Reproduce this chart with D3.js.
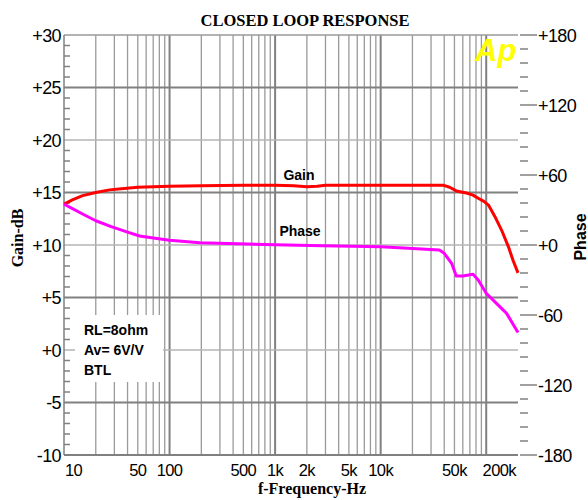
<!DOCTYPE html>
<html>
<head>
<meta charset="utf-8">
<script src="https://cdn.jsdelivr.net/npm/d3@7"></script>
<style>
  body { margin: 0; background: #ffffff; }
  svg { display: block; }
  .tick-label { font-family: "Liberation Sans", Arial, sans-serif; font-size: 18px; fill: #000; letter-spacing: -0.6px; }
  .serif-title { font-family: "Liberation Serif", "Times New Roman", serif; font-weight: bold; fill: #000; }
</style>
</head>
<body>
<div id="chart"></div>
<script>
// gain curve (Hz, dB)
var gainFreq = [10, 12, 15, 20, 27, 35, 50, 70, 100, 200, 500, 1000, 1500, 2000, 2500, 3000, 5000, 10000, 20000, 39000, 45000, 52000, 65000, 75000, 84000, 95000, 105000, 121000, 140000, 162000, 180000, 200000];
var gainDb = [13.9, 14.3, 14.7, 15.0, 15.25, 15.35, 15.5, 15.55, 15.6, 15.65, 15.7, 15.7, 15.65, 15.55, 15.6, 15.7, 15.7, 15.7, 15.7, 15.7, 15.5, 15.15, 14.95, 14.75, 14.45, 14.15, 13.8, 12.7, 11.4, 9.85, 8.5, 7.35];

// phase curve (Hz, degrees)
var phaseFreq = [10, 15, 20, 28, 40, 52, 73, 100, 194, 540, 1000, 2800, 10000, 20000, 36000, 40000, 47000, 52000, 60000, 75000, 84000, 100000, 125000, 156000, 200000];
var phaseDeg = [35, 26.6, 20.8, 15.7, 11, 7.7, 5.7, 4.0, 2.0, 0.9, 0.3, -0.6, -1.4, -2.9, -4.3, -7.1, -15.7, -26.6, -26.6, -25.1, -30, -41.4, -50, -58.6, -75];

// axis labels
var xTickValues = [10, 50, 100, 500, 1000, 2000, 5000, 10000, 50000, 200000];
var xTickLabels = ["10", "50", "100", "500", "1k", "2k", "5k", "10k", "50k", "200k"];
var gainTicks = [30, 25, 20, 15, 10, 5, 0, -5, -10];
var gainTickLabels = ["+30", "+25", "+20", "+15", "+10", "+5", "+0", "-5", "-10"];
var phaseTicks = [180, 120, 60, 0, -60, -120, -180];
var phaseTickLabels = ["+180", "+120", "+60", "+0", "-60", "-120", "-180"];
var noteLines = ["RL=8ohm", "Av= 6V/V", "BTL"];

var W = 588, H = 500;
var plot = { left: 64, right: 518, top: 35, bottom: 455 };

var svg = d3.select("#chart").append("svg")
  .attr("width", W)
  .attr("height", H);

svg.append("rect").attr("width", W).attr("height", H).style("fill", "#ffffff");

var x = d3.scaleLog().domain([10, 200000]).range([plot.left, plot.right]);
var yGain = d3.scaleLinear().domain([-10, 30]).range([plot.bottom, plot.top]);
var yPhase = d3.scaleLinear().domain([-180, 180]).range([plot.bottom, plot.top]);

// vertical grid: 1..9 of each decade
var vLines = [];
for (var dec = 10; dec <= 100000; dec *= 10) {
  for (var m = 1; m <= 9; m++) {
    var f = m * dec;
    if (f > 10 && f < 200000) vLines.push(f);
  }
}
var grid = svg.append("g").attr("class", "grid");
grid.selectAll(".vline")
  .data(vLines).enter()
  .append("line")
  .attr("x1", function(d) { return x(d); })
  .attr("x2", function(d) { return x(d); })
  .attr("y1", plot.top)
  .attr("y2", plot.bottom)
  .style("stroke", function(d) { return (Math.log10(d) % 1 === 0) ? "#808080" : "#9a9a9a"; })
  .style("stroke-width", function(d) { return (Math.log10(d) % 1 === 0) ? 2 : 1.3; });

// horizontal grid every 5 dB (odd fives drawn darker, like the original)
var hLines = d3.range(-10, 31, 5);
grid.selectAll(".hline")
  .data(hLines).enter()
  .append("line")
  .attr("x1", plot.left)
  .attr("x2", plot.right)
  .attr("y1", function(d) { return yGain(d); })
  .attr("y2", function(d) { return yGain(d); })
  .style("stroke", function(d) {
    if (d === 30) return "#9a9a9a";
    return (Math.abs(d) % 10 === 5 || d === -10) ? "#808080" : "#b4b4b4";
  })
  .style("stroke-width", function(d) { return (Math.abs(d) % 10 === 5 || d === -10) ? 2 : 1.5; });

// left axis line + minor ticks
svg.append("line")
  .attr("x1", plot.left).attr("x2", plot.left)
  .attr("y1", plot.top).attr("y2", plot.bottom)
  .style("stroke", "#808080").style("stroke-width", 1.5);

svg.append("g").selectAll("line")
  .data(d3.range(-10, 31, 1).filter(function(d) { return d % 5 !== 0; })).enter()
  .append("line")
  .attr("x1", plot.left).attr("x2", plot.left + 6)
  .attr("y1", function(d) { return yGain(d); })
  .attr("y2", function(d) { return yGain(d); })
  .style("stroke", "#808080").style("stroke-width", 1.5);

svg.append("g").selectAll("text")
  .data(gainTicks).enter()
  .append("text")
  .attr("class", "tick-label")
  .attr("x", plot.left - 3)
  .attr("y", function(d) { return yGain(d) + 6.5; })
  .style("text-anchor", "end")
  .text(function(d, i) { return gainTickLabels[i]; });

// right (phase) axis ticks, every 12 degrees
var rightX = plot.right + 2;
svg.append("g").selectAll("line")
  .data(d3.range(-180, 181, 12)).enter()
  .append("line")
  .attr("x1", rightX)
  .attr("x2", function(d) { return (d % 60 === 0) ? rightX + 17 : rightX + 8; })
  .attr("y1", function(d) { return yPhase(d); })
  .attr("y2", function(d) { return yPhase(d); })
  .style("stroke", "#808080").style("stroke-width", 1.5);

svg.append("g").selectAll("text")
  .data(phaseTicks).enter()
  .append("text")
  .attr("class", "tick-label")
  .attr("x", rightX + 18)
  .attr("y", function(d) { return yPhase(d) + 6.5; })
  .style("text-anchor", "start")
  .text(function(d, i) { return phaseTickLabels[i]; });

// bottom tick labels
svg.append("g").selectAll("text")
  .data(xTickValues).enter()
  .append("text")
  .attr("class", "tick-label")
  .style("font-size", "16.5px")
  .attr("x", function(d, i) {
    if (i === 0) return plot.left + 1;
    if (i === xTickValues.length - 1) return plot.right - 2;
    return x(d);
  })
  .attr("y", 475.5)
  .style("text-anchor", function(d, i) {
    if (i === 0) return "start";
    if (i === xTickValues.length - 1) return "end";
    return "middle";
  })
  .text(function(d, i) { return xTickLabels[i]; });

// note box
var note = svg.append("g");
note.append("rect")
  .attr("x", 75).attr("y", 315)
  .attr("width", 88).attr("height", 67)
  .style("fill", "#ffffff");
note.selectAll("text")
  .data(noteLines).enter()
  .append("text")
  .attr("x", 84)
  .attr("y", function(d, i) { return 335 + i * 20; })
  .style("font-family", "'Liberation Sans', Arial, sans-serif")
  .style("font-weight", "bold")
  .style("font-size", "14px")
  .text(function(d) { return d; });

// curves
var line = d3.line().curve(d3.curveLinear);

svg.append("path")
  .datum(gainFreq.map(function(f, i) { return [x(f), yGain(gainDb[i])]; }))
  .attr("d", line)
  .style("fill", "none")
  .style("stroke", "#ff0000")
  .style("stroke-width", 3)
  .style("stroke-linejoin", "round");

svg.append("path")
  .datum(phaseFreq.map(function(f, i) { return [x(f), yPhase(phaseDeg[i])]; }))
  .attr("d", line)
  .style("fill", "none")
  .style("stroke", "#ff00ff")
  .style("stroke-width", 3)
  .style("stroke-linejoin", "round");

// curve names
svg.append("text")
  .attr("x", 299).attr("y", 180)
  .style("text-anchor", "middle")
  .style("font-family", "'Liberation Sans', Arial, sans-serif")
  .style("font-weight", "bold").style("font-size", "14px")
  .text("Gain");
svg.append("text")
  .attr("x", 300).attr("y", 236)
  .style("text-anchor", "middle")
  .style("font-family", "'Liberation Sans', Arial, sans-serif")
  .style("font-weight", "bold").style("font-size", "14px")
  .text("Phase");

// Ap logo
svg.append("text")
  .attr("x", 475).attr("y", 61)
  .style("font-family", "'Liberation Sans', Arial, sans-serif")
  .style("font-weight", "bold").style("font-style", "italic")
  .style("font-size", "31px")
  .style("fill", "#ffff00")
  .text("Ap");

// titles
svg.append("text")
  .attr("class", "serif-title")
  .attr("x", 305).attr("y", 26)
  .style("text-anchor", "middle").style("font-size", "16.5px")
  .text("CLOSED LOOP RESPONSE");

svg.append("text")
  .attr("class", "serif-title")
  .attr("x", 312).attr("y", 494)
  .style("text-anchor", "middle").style("font-size", "16px")
  .text("f-Frequency-Hz");

svg.append("text")
  .attr("class", "serif-title")
  .attr("transform", "translate(23,238) rotate(-90)")
  .style("text-anchor", "middle").style("font-size", "16px")
  .text("Gain-dB");

svg.append("text")
  .attr("transform", "translate(586,237) rotate(-90)")
  .style("text-anchor", "middle")
  .style("font-family", "'Liberation Sans', Arial, sans-serif")
  .style("font-weight", "bold").style("font-size", "16px")
  .text("Phase");
</script>
</body>
</html>
